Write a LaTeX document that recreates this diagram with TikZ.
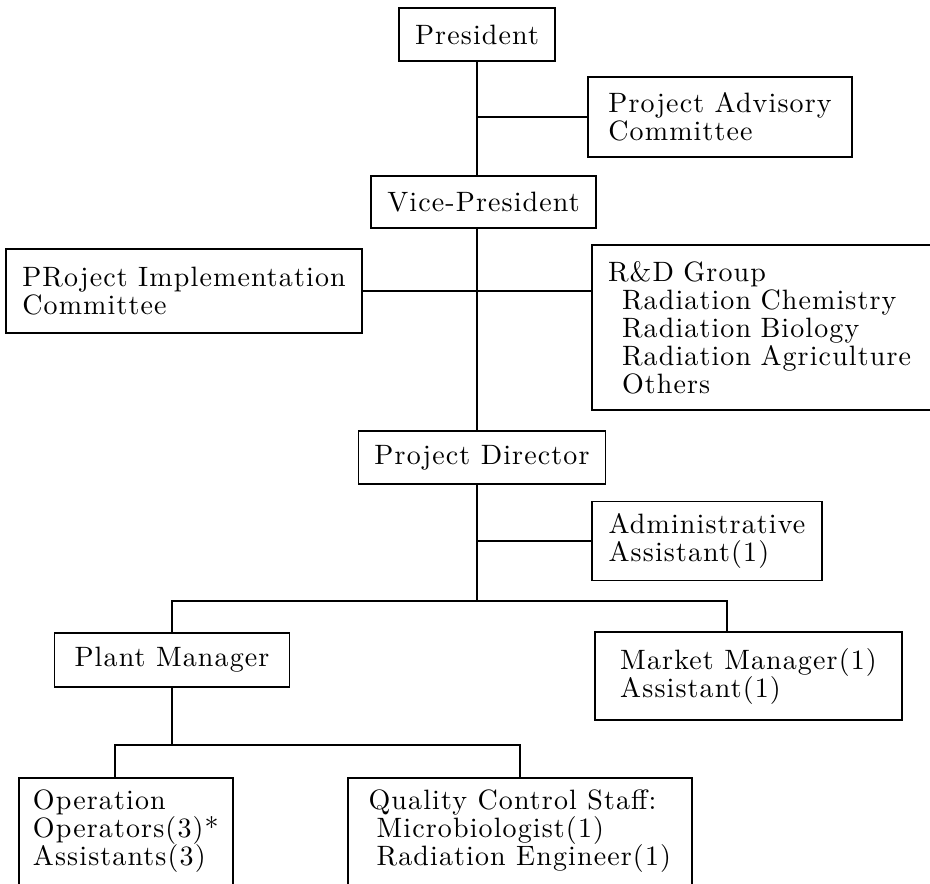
\documentclass[tikz,border=0pt]{standalone}
\usepackage{fontspec}
\setmainfont{lmroman10-regular.otf}[LetterSpace=4]
\usepackage{tikz}

\begin{document}
\begin{tikzpicture}[x=0.5pt, y=-0.5pt, line width=0.8pt,
    orgbox/.style={draw, rectangle, align=left, inner xsep=8pt, inner ysep=6pt, font=\fontsize{14}{14}\selectfont}]
    \clip (0,0) rectangle (930,883);

    \node[orgbox, minimum width=76.5pt, minimum height=26.5pt] (pres) at (477,34.5) {President};
    \node[orgbox, minimum width=132pt, minimum height=40pt] (pac) at (720,117) {Project Advisory\\Committee};
    \node[orgbox, minimum width=109.5pt, minimum height=26pt] (vice) at (483.5,202) {Vice-President};
    \node[orgbox, minimum width=178pt, minimum height=42pt] (pic) at (184,291) {PRoject Implementation\\Committee};
    \node[orgbox, text width=160pt, minimum height=82.5pt] (rnd) at (768,327.5) {R\&D Group\\\hspace*{7pt}Radiation Chemistry\\\hspace*{7pt}Radiation Biology\\\hspace*{7pt}Radiation Agriculture\\\hspace*{7pt}Others};
    \node[orgbox, minimum width=122pt, minimum height=26.5pt] (pd) at (482,457.5) {Project Director};
    \node[orgbox, minimum width=115pt, minimum height=39pt] (admin) at (707,541) {Administrative\\Assistant(1)};
    \node[orgbox, minimum width=117.5pt, minimum height=27pt] (pm) at (172,660) {Plant Manager};
    \node[orgbox, minimum width=153.5pt, minimum height=44pt] (mkt) at (748.5,676) {Market Manager(1)\\Assistant(1)};
    \node[orgbox, anchor=north west, minimum width=107pt, inner xsep=6pt, text depth=40pt] (op) at (18,777) {Operation\\Operators(3)*\\Assistants(3)};
    \node[orgbox, anchor=north west, minimum width=172pt, text depth=40pt] (qc) at (347,777) {Quality Control Staff:\\\hspace*{4pt}Microbiologist(1)\\\hspace*{4pt}Radiation Engineer(1)};

    \coordinate (fork) at (477,601);
    \coordinate (fork2) at (172,745);

    \draw (pres) -- (pres |- vice.north);
    \draw (pres |- pac.west) -- (pac.west);
    \draw (pres |- vice.south) -- (pres |- pd.north);
    \draw (pic.east) -- (pic.east -| rnd.west);
    \draw (pres |- pd.south) -- (fork);
    \draw (pres |- admin.west) -- (admin.west);
    \draw (pm.north) |- (fork) -| ([xshift=-10.75pt]mkt.north);
    \draw (pm) -- (fork2);
    \draw ([xshift=-5.5pt]op.north) |- (fork2) -| (qc.north);
\end{tikzpicture}
\end{document}
